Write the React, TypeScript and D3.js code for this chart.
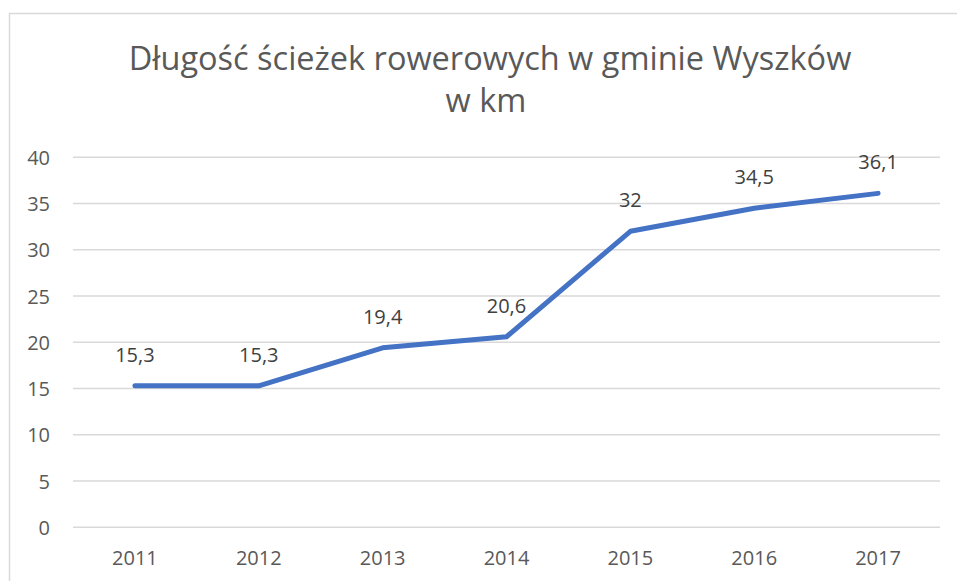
import React from "react";
import * as d3 from "d3";

const years = ["2011", "2012", "2013", "2014", "2015", "2016", "2017"];
const lengths = [15.3, 15.3, 19.4, 20.6, 32, 34.5, 36.1];
const yTicks = [0, 5, 10, 15, 20, 25, 30, 35, 40];
const titleLines = ["Długość ścieżek rowerowych w gminie Wyszków", "w km"];

const W = 957;
const H = 581;
const left = 73;
const right = 940;
const top = 157.3;
const bottom = 527.3;
const font = "'Open Sans', 'Liberation Sans', sans-serif";
const textColor = "#595959";

export default function App() {
  const x = d3.scaleBand<string>().domain(years).range([left, right]);
  const y = d3.scaleLinear().domain([0, 40]).range([bottom, top]);
  const line = d3
    .line<number>()
    .x((_, i) => (x(years[i]) as number) + x.bandwidth() / 2)
    .y((d) => y(d));
  const fmt = (v: number) => String(v).replace(".", ",");

  return (
    <svg
      width={W}
      height={H}
      style={{ position: "absolute", left: 0, top: 0, background: "#fff" }}
      fontFamily={font}
    >
      <rect x={9.5} y={13.5} width={W + 10} height={H + 10} fill="#fff" stroke="#d9d9d9" strokeWidth={1.5} />
      <text x={490} y={70} textAnchor="middle" fontSize={32.5} fill={textColor}>
        {titleLines[0]}
      </text>
      <text x={486} y={112} textAnchor="middle" fontSize={32.5} fill={textColor}>
        {titleLines[1]}
      </text>
      {yTicks.map((t) => (
        <g key={t}>
          <line x1={left} x2={right} y1={y(t)} y2={y(t)} stroke="#d9d9d9" strokeWidth={1.5} />
          <text x={50} y={y(t) + 7.5} textAnchor="end" fontSize={20} fill={textColor}>
            {t}
          </text>
        </g>
      ))}
      {years.map((yr) => (
        <text
          key={yr}
          x={(x(yr) as number) + x.bandwidth() / 2}
          y={565}
          textAnchor="middle"
          fontSize={20}
          fill={textColor}
        >
          {yr}
        </text>
      ))}
      <path
        d={line(lengths) as string}
        fill="none"
        stroke="#4472C4"
        strokeWidth={5}
        strokeLinecap="round"
        strokeLinejoin="round"
      />
      {lengths.map((v, i) => (
        <text
          key={i}
          x={(x(years[i]) as number) + x.bandwidth() / 2}
          y={y(v) - 24}
          textAnchor="middle"
          fontSize={20}
          fill="#404040"
        >
          {fmt(v)}
        </text>
      ))}
    </svg>
  );
}
